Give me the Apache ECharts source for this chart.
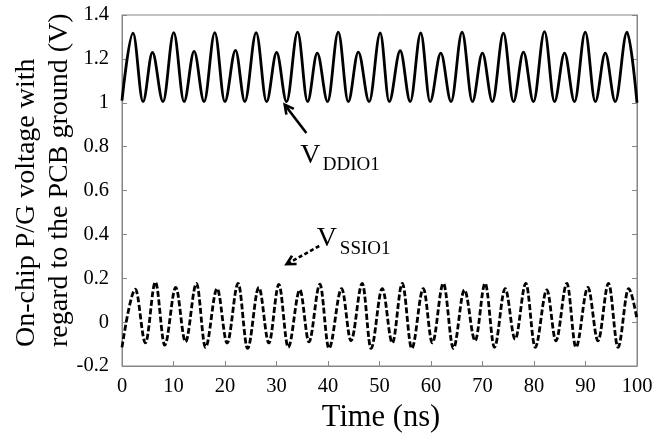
<!DOCTYPE html>
<html>
<head>
<meta charset="utf-8">
<script src="https://cdn.jsdelivr.net/npm/echarts@6/dist/echarts.min.js"></script>
<style>
  html, body { margin: 0; padding: 0; background: #ffffff; }
  #chart { width: 656px; height: 442px; }
</style>
</head>
<body>
<div id="chart"></div>
<script>
// Extrema of the on-chip supply rail V_DDIO1 (time in ns, voltage in V)
const vddTime = [0, 2.14, 4.08, 5.91, 7.97, 10.05, 12.05, 14.0, 15.94, 18.02, 19.96, 22.04, 23.85, 26.05, 28.07,
  30.02, 31.96, 34.1, 36.04, 37.91, 39.93, 41.99, 43.93, 45.88, 48.0, 50.14, 51.88, 54.02, 55.97, 58.01, 59.82,
  61.9, 63.9, 66.04, 68.04, 69.98, 71.93, 74.07, 76.01, 77.95, 79.9, 82.04, 83.98, 85.93, 87.87, 89.95, 91.9,
  93.84, 95.78, 98.06, 100];
const vddValue = [1.01, 1.317, 1.005, 1.229, 1.005, 1.32, 1.005, 1.234, 1.005, 1.32, 1.005, 1.239, 1.005, 1.32, 1.005,
  1.229, 1.005, 1.322, 1.005, 1.226, 1.005, 1.322, 1.005, 1.231, 1.005, 1.318, 1.005, 1.237, 1.005, 1.318, 1.005,
  1.226, 1.005, 1.322, 1.005, 1.226, 1.005, 1.317, 1.005, 1.231, 1.005, 1.324, 1.005, 1.226, 1.005, 1.322, 1.005,
  1.226, 1.005, 1.322, 1.0];

// Extrema of the on-chip ground rail V_SSIO1
const vssTime = [0, 2.6, 4.55, 6.49, 8.3, 10.44, 12.33, 14.46, 16.21, 18.47, 20.41, 22.55, 24.38, 26.57, 28.52,
  30.46, 32.27, 34.54, 36.3, 38.43, 40.18, 42.65, 44.46, 46.66, 48.35, 50.54, 52.49, 54.43, 56.26, 58.51, 60.26,
  62.4, 64.35, 66.49, 68.57, 70.51, 72.32, 74.4, 76.34, 78.42, 80.23, 82.5, 84.25, 86.39, 88.14, 90.47, 92.42,
  94.48, 96.31, 98.37, 100];
const vssValue = [-0.115, 0.15, -0.095, 0.183, -0.105, 0.158, -0.09, 0.177, -0.115, 0.153, -0.095, 0.177, -0.12, 0.158, -0.095,
  0.172, -0.115, 0.147, -0.09, 0.173, -0.12, 0.153, -0.085, 0.177, -0.12, 0.153, -0.095, 0.177, -0.12, 0.153, -0.095,
  0.177, -0.12, 0.147, -0.085, 0.177, -0.115, 0.153, -0.078, 0.177, -0.115, 0.147, -0.085, 0.177, -0.115, 0.158, -0.085,
  0.177, -0.115, 0.153, 0.014];

// Axis settings
const xMin = 0, xMax = 100, xStep = 10;
const yMin = -0.2, yMax = 1.4, yStep = 0.2;
const xTitle = 'Time (ns)';
const yTitle = 'On-chip P/G voltage with\nregard to the PCB ground (V)';

// Annotation callouts, in data coordinates: [tail, head]
const vddArrow = [[35.8, 0.862], [31.6, 0.991]];
const vssArrow = [[38.3, 0.347], [31.96, 0.264]];
const vddLabelPos = { main: [34.6, 0.758], sub: [39.0, 0.714] };
const vssLabelPos = { main: [37.8, 0.382], sub: [42.3, 0.335] };

const FONT = '"Liberation Serif", "Times New Roman", serif';
const AXIS_GRAY = '#868686';

function pairs(xs, ys) { return xs.map((x, i) => [x, ys[i]]); }

const chart = echarts.init(document.getElementById('chart'), null, { renderer: 'canvas' });

const fmtY = v => String(Number(v.toFixed(1)));

chart.setOption({
  animation: false,
  grid: { left: 122, right: 19, top: 15, bottom: 76, show: true, borderColor: AXIS_GRAY, borderWidth: 1 },
  xAxis: {
    type: 'value', min: xMin, max: xMax, interval: xStep,
    axisLine: { show: true, onZero: false, lineStyle: { color: AXIS_GRAY, width: 1 } },
    axisTick: { show: true, inside: true, length: 5, lineStyle: { color: AXIS_GRAY } },
    axisLabel: { color: '#000', fontFamily: FONT, fontSize: 20.5, margin: 10 },
    splitLine: { show: false }
  },
  yAxis: [{
    type: 'value', min: yMin, max: yMax, interval: yStep,
    axisLine: { show: true, onZero: false, lineStyle: { color: AXIS_GRAY, width: 1 } },
    axisTick: { show: true, inside: true, length: 5, lineStyle: { color: AXIS_GRAY } },
    axisLabel: { color: '#000', fontFamily: FONT, fontSize: 20.5, margin: 13, formatter: fmtY },
    splitLine: { show: false }
  }, {
    type: 'value', min: yMin, max: yMax, interval: yStep, position: 'right',
    axisLine: { show: true, onZero: false, lineStyle: { color: AXIS_GRAY, width: 1 } },
    axisTick: { show: true, inside: true, length: 5, lineStyle: { color: AXIS_GRAY } },
    axisLabel: { show: false },
    splitLine: { show: false }
  }],
  series: [{
    name: 'VDDIO1', type: 'line', data: pairs(vddTime, vddValue),
    smooth: 0.35, smoothMonotone: 'x', showSymbol: false, symbol: 'none',
    lineStyle: { color: '#000', width: 2.8, type: 'solid' }
  }, {
    name: 'VSSIO1', type: 'line', data: pairs(vssTime, vssValue),
    smooth: 0.35, smoothMonotone: 'x', showSymbol: false, symbol: 'none',
    lineStyle: { color: '#000', width: 2.8, type: [6, 2.5] }
  }]
});

function px(p) { return chart.convertToPixel({ gridIndex: 0 }, p); }

function arrow(tailData, headData, dashed) {
  const t = px(tailData), h = px(headData);
  const dx = h[0] - t[0], dy = h[1] - t[1];
  const len = Math.hypot(dx, dy);
  const ux = dx / len, uy = dy / len;
  const a = 28 * Math.PI / 180, L = 10;
  const w1 = [h[0] - L * (ux * Math.cos(a) - uy * Math.sin(a)), h[1] - L * (uy * Math.cos(a) + ux * Math.sin(a))];
  const w2 = [h[0] - L * (ux * Math.cos(-a) - uy * Math.sin(-a)), h[1] - L * (uy * Math.cos(-a) + ux * Math.sin(-a))];
  return [{
    type: 'line', silent: true,
    shape: { x1: t[0], y1: t[1], x2: h[0], y2: h[1] },
    style: { stroke: '#000', lineWidth: 2.6, lineDash: dashed ? [4, 2.5] : null }
  }, {
    type: 'polyline', silent: true,
    shape: { points: [w1, h, w2] },
    style: { stroke: '#000', lineWidth: 2.6, fill: null }
  }];
}

function label(pos, main, sub) {
  const m = px(pos.main), s = px(pos.sub);
  return [{
    type: 'text', x: m[0], y: m[1], silent: true,
    style: { text: main, fill: '#000', fontFamily: FONT, fontSize: 28,
      align: 'left', textAlign: 'left', verticalAlign: 'middle', textVerticalAlign: 'middle' }
  }, {
    type: 'text', x: s[0], y: s[1], silent: true,
    style: { text: sub, fill: '#000', fontFamily: FONT, fontSize: 19,
      align: 'left', textAlign: 'left', verticalAlign: 'middle', textVerticalAlign: 'middle' }
  }];
}

chart.setOption({
  graphic: [
    {
      type: 'text', x: 43, y: 347, rotation: Math.PI / 2, silent: true,
      style: { text: yTitle, fill: '#000', fontFamily: FONT, fontSize: 28, lineHeight: 33,
        align: 'left', textAlign: 'left', verticalAlign: 'middle', textVerticalAlign: 'middle' }
    },
    {
      type: 'text', x: 381, y: 418, silent: true,
      style: { text: xTitle, fill: '#000', fontFamily: FONT, fontSize: 30.5,
        align: 'center', textAlign: 'center', verticalAlign: 'middle', textVerticalAlign: 'middle' }
    },
    ...arrow(vddArrow[0], vddArrow[1], false),
    ...arrow(vssArrow[0], vssArrow[1], true),
    ...label(vddLabelPos, 'V', 'DDIO1'),
    ...label(vssLabelPos, 'V', 'SSIO1')
  ]
});
</script>
</body>
</html>
